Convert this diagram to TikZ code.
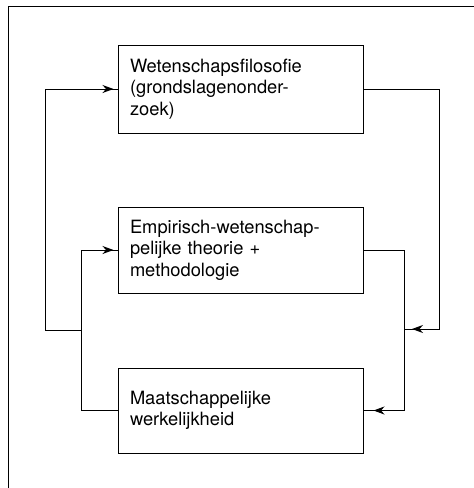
\documentclass[tikz,border=0pt]{standalone}
\usepackage{fontspec}
\setmainfont{TeX Gyre Heros}
\usetikzlibrary{arrows.meta,decorations.markings}
\tikzset{
  box/.style={draw, line width=1pt, rectangle, align=left, text width=221pt,
    inner xsep=12pt, inner ysep=0pt, minimum width=245pt,
    font=\fontsize{18.3}{21.5}\selectfont},
  conn/.style={line width=1pt},
  arrowat/.style={postaction={decorate}, decoration={markings,
    mark=at position -#1 with {\arrow{Stealth[length=11pt,width=8pt,inset=3.5pt]}}}}
}
\begin{document}
\begin{tikzpicture}[x=1pt,y=-1pt]
\useasboundingbox (0,0) rectangle (474,488);
% outer frame (open at right and bottom)
\coordinate (fb) at (8,488);
\coordinate (fc) at (8,6);
\coordinate (fr) at (474,6);
\draw[conn] (fb) -- (fc) -- (fr);

\node[box, minimum height=88pt] (b1) at (240.5,89)
  {Wetenschapsfilosofie\\(grondslagenonder-\\zoek)};
\node[box, minimum height=86pt] (b2) at (240.5,250)
  {Empirisch-wetenschap-\\pelijke theorie +\\methodologie};
\node[box, minimum height=85pt] (b3) at (240.5,410.5)
  {Maatschappelijke\\werkelijkheid};

% right side
\coordinate (r1) at (439,89);
\coordinate (r2) at (439,329);
\coordinate (j1) at (404,329);
\coordinate (r3) at (404,250);
\coordinate (r4) at (404,410.5);
\draw[conn, arrowat=8pt] (b1.east) -- (r1) -- (r2) -- (j1);
\draw[conn, arrowat=10pt] (b2.east) -- (r3) -- (r4) -- (b3.east);

% left side
\coordinate (l1) at (81,410.5);
\coordinate (l2) at (81,250);
\coordinate (j2) at (81,330);
\coordinate (l3) at (45,330);
\coordinate (l4) at (45,89);
\draw[conn, arrowat=4pt] (b3.west) -- (l1) -- (l2) -- (b2.west);
\draw[conn, arrowat=4pt] (j2) -- (l3) -- (l4) -- (b1.west);
\end{tikzpicture}
\end{document}
